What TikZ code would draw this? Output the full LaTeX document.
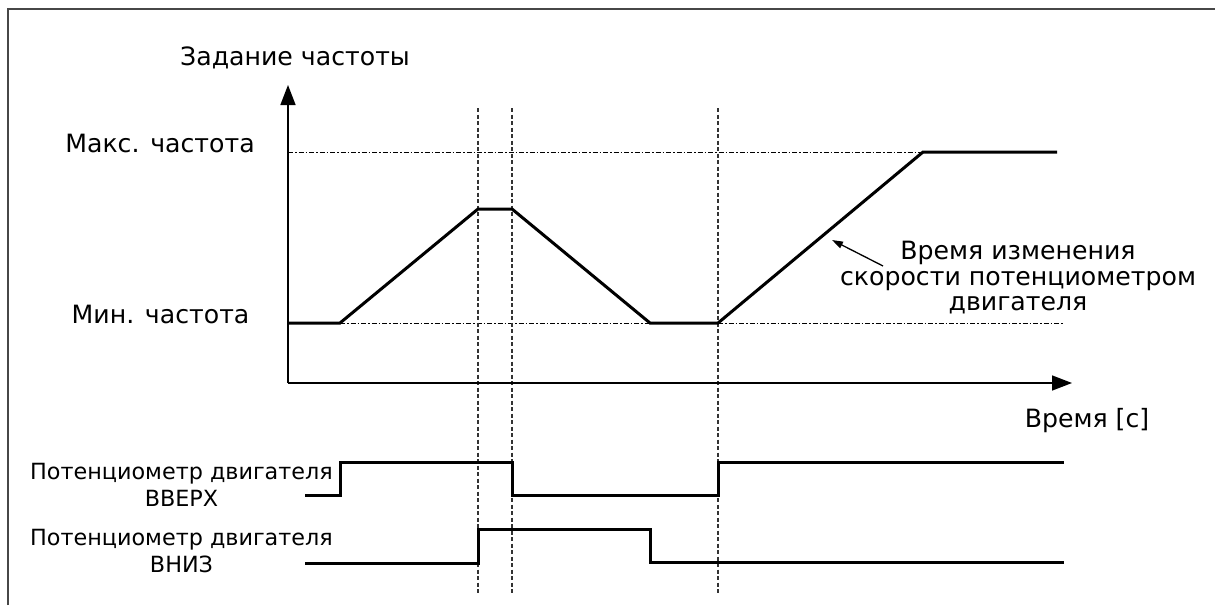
\documentclass[tikz,border=0pt]{standalone}
\usepackage{fontspec}
\setmainfont{DejaVu Sans}
\usetikzlibrary{arrows.meta}
\begin{document}
\begin{tikzpicture}[x=1pt,y=-1pt,
  lbl/.style={font=\fontsize{25.2}{25.5}\selectfont, inner sep=0pt},
  sig/.style={font=\fontsize{22.3}{27.5}\selectfont, inner sep=0pt, align=center},
  axis/.style={line width=1.5pt, -{Triangle[length=20pt,width=15pt]}},
  curve/.style={line width=3pt, line join=miter},
  dashdot/.style={line width=1pt, dash pattern=on 5pt off 2pt on 1.5pt off 2pt},
  vdash/.style={line width=1.2pt, color=black!80, dash pattern=on 4pt off 2.5pt},
  frame/.style={line width=2.2pt, color=black!72}]
\useasboundingbox (0,0) rectangle (1215,605);
\fill[white] (0,0) rectangle (1215,605);
% frame (partly outside)
\draw[frame] (8,605) -- (8,9) -- (1215,9);
% coordinates
\coordinate (O) at (288,383);
\coordinate (Ytip) at (288,85);
\coordinate (Xtip) at (1072,383);
\coordinate (maxL) at (288,152);
\coordinate (maxR) at (923,152);
\coordinate (minL) at (340,323);
\coordinate (minR) at (1063,323);
\coordinate (c0) at (288,323);
\coordinate (c1) at (340,323);
\coordinate (c2) at (478,209);
\coordinate (c3) at (512,209);
\coordinate (c4) at (650,323);
\coordinate (c5) at (718,323);
\coordinate (c6) at (923,152);
\coordinate (c7) at (1057,152);
\coordinate (v1t) at (478,108);
\coordinate (v1b) at (478,595);
\coordinate (v2t) at (512,108);
\coordinate (v2b) at (512,595);
\coordinate (v3t) at (718,108);
\coordinate (v3b) at (718,595);
% reference levels
\draw[dashdot] (maxL) -- (maxR);
\draw[dashdot] (minL) -- (minR);
% vertical markers
\draw[vdash] (v1t) -- (v1b);
\draw[vdash] (v2t) -- (v2b);
\draw[vdash] (v3t) -- (v3b);
% axes
\draw[axis] (O) -- (Ytip);
\draw[axis] (O) -- (Xtip);
% frequency curve
\draw[curve] (c0) -- (c1) -- (c2) -- (c3) -- (c4) -- (c5) -- (c6) -- (c7);
% labels
\node[lbl, anchor=base] (ylab) at (295,65) {Задание частоты};
\node[lbl, anchor=base] (maxlab) at (160,152) {Макс. частота};
\node[lbl, anchor=base] (minlab) at (160.5,323) {Мин. частота};
\node[lbl, anchor=base] (xlab) at (1087,427) {Время [с]};
\node[lbl, align=center] (note) at (1018,278) {Время изменения\\скорости потенциометром\\двигателя};
\coordinate (arrTail) at (883,266);
\coordinate (arrTip) at (832,240);
\draw[line width=1.3pt, -{Triangle[length=11pt,width=7pt]}] (arrTail) -- (arrTip);
% signals
\node[sig] (uplab) at (181.5,485) {Потенциометр двигателя\\ВВЕРХ};
\node[sig] (dnlab) at (181.5,551) {Потенциометр двигателя\\ВНИЗ};
\coordinate (u0) at (305,495);
\coordinate (u1) at (340,495);
\coordinate (u2) at (340,462);
\coordinate (u3) at (512,462);
\coordinate (u4) at (512,495);
\coordinate (u5) at (718,495);
\coordinate (u6) at (718,462);
\coordinate (u7) at (1064,462);
\draw[curve] (u0) -- (u1) -- (u2) -- (u3) -- (u4) -- (u5) -- (u6) -- (u7);
\coordinate (d0) at (305,563);
\coordinate (d1) at (478,563);
\coordinate (d2) at (478,529);
\coordinate (d3) at (650,529);
\coordinate (d4) at (650,562);
\coordinate (d5) at (1064,562);
\draw[curve] (d0) -- (d1) -- (d2) -- (d3) -- (d4) -- (d5);
\end{tikzpicture}
\end{document}
